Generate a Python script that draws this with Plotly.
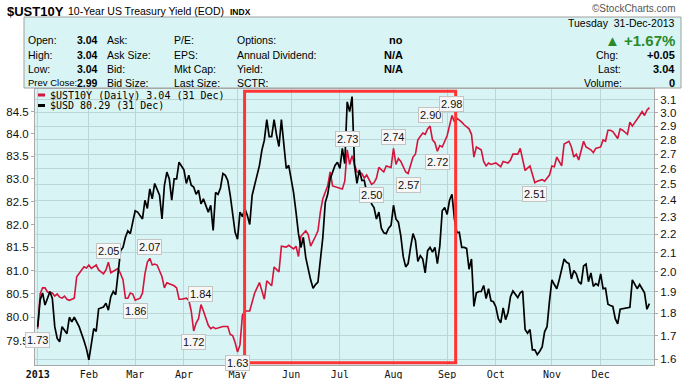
import math
import plotly.graph_objects as go

# ---------------- data ----------------
month_idx = [0, 21, 40, 60, 82, 104, 124, 146, 168, 188, 211, 231]
month_lbl = ["<b>2013</b>", "Feb", "Mar", "Apr", "May", "Jun", "Jul", "Aug", "Sep", "Oct", "Nov", "Dec"]

# 10-Year US Treasury yield ($UST10Y), trading-day index -> value
ust_idx = [0, 1, 2, 3, 4, 6, 7, 8, 9, 10, 11, 12, 13, 14, 15, 16, 17, 19, 20, 21, 22, 24, 25, 27, 28, 29, 30,
           32, 33, 34, 35, 36, 37, 38, 39, 40, 42, 43, 44, 45, 46, 47, 48, 49, 51, 52, 53, 54, 56, 57, 58, 59,
           61, 62, 63, 64, 65, 66, 67, 68, 70, 71, 72, 73, 75, 76, 78, 79, 80, 81, 82, 83, 84, 85, 87, 89, 91,
           93, 94, 96, 97, 99, 100, 102, 103, 105, 106, 107, 108, 110, 111, 112, 114, 115, 116, 117, 119, 120,
           121, 123, 125, 126, 127, 128, 129, 130, 131, 133, 134, 135, 137, 138, 139, 140, 142, 143, 145, 146,
           147, 148, 149, 151, 152, 154, 155, 156, 158, 159, 160, 161, 162, 163, 164, 165, 166, 168, 170, 171,
           172, 174, 175, 177, 178, 179, 180, 182, 183, 184, 185, 186, 188, 190, 191, 193, 194, 195, 197, 198,
           199, 200, 202, 204, 205, 207, 208, 210, 211, 212, 213, 215, 216, 218, 219, 220, 221, 222, 224, 225,
           227, 228, 229, 231, 232, 233, 234, 235, 236, 238, 239, 240, 242, 243, 244, 246, 247, 248, 249, 250, 251]
ust_val = [1.73, 1.89, 1.92, 1.92, 1.90, 1.895, 1.88, 1.89, 1.875, 1.87, 1.88, 1.865, 1.86, 1.865, 1.87, 1.975,
           1.99, 2.026, 2.02, 2.035, 2.017, 2.035, 2.01, 1.99, 2.01, 2.05, 1.995,
           2.01, 2.017, 1.99, 1.96, 1.87, 1.87, 1.895, 1.89, 1.86, 1.87, 1.895, 1.99, 2.05, 2.07, 2.035, 2.04,
           2.035, 1.975, 1.92, 1.945, 1.94, 1.93, 1.92, 1.865, 1.865,
           1.87, 1.86, 1.81, 1.72, 1.755, 1.775, 1.84, 1.81, 1.745, 1.73, 1.737, 1.73, 1.735, 1.74, 1.74, 1.705,
           1.70, 1.67, 1.63, 1.66, 1.79, 1.81, 1.81, 1.894, 1.946,
           1.865, 1.955, 1.93, 2.025, 2.0, 2.135, 2.13, 2.14, 2.12, 2.135, 2.08, 2.19, 2.22, 2.2, 2.135, 2.19,
           2.22, 2.33, 2.41, 2.49, 2.58,
           2.49, 2.48, 2.47, 2.52, 2.73, 2.63, 2.69, 2.63, 2.58, 2.57, 2.54, 2.56, 2.50, 2.51, 2.54, 2.61, 2.58,
           2.62, 2.61, 2.74,
           2.63, 2.67, 2.65, 2.58, 2.57, 2.68, 2.70, 2.80, 2.85, 2.84, 2.88, 2.90, 2.80, 2.78, 2.72, 2.76, 2.75,
           2.83, 2.98, 2.93,
           2.96, 2.93, 2.91, 2.88, 2.84, 2.68, 2.75, 2.73, 2.65, 2.62, 2.64, 2.63, 2.64, 2.615, 2.65, 2.64, 2.66,
           2.70, 2.70, 2.74,
           2.66, 2.59, 2.62, 2.51, 2.52, 2.53, 2.52, 2.56, 2.62, 2.615, 2.68, 2.62, 2.77, 2.79, 2.75, 2.68, 2.70,
           2.66, 2.79, 2.75,
           2.73, 2.71, 2.74, 2.75, 2.80, 2.79, 2.87, 2.87, 2.86, 2.81, 2.88, 2.87, 2.84, 2.93, 2.90, 2.96, 2.98,
           3.01, 2.98, 3.02, 3.04]

# US Dollar index ($USD), trading-day index -> value
usd_idx = [0, 1, 2, 3, 4, 5, 6, 7, 8, 9, 10, 11, 12, 13, 14, 15, 16, 17, 19, 20, 21, 22, 23, 24, 25, 27, 28, 29,
           30, 31, 32, 33, 34, 35, 36, 37, 38, 39, 40, 41, 43, 44, 45, 46, 47, 48, 50, 51, 52, 53, 54, 55, 56,
           57, 58, 60, 61, 62, 63, 64, 65, 66, 67, 68, 69, 70, 71, 72, 73, 74, 75, 76, 77, 78, 79, 80, 81, 82,
           83, 84, 85, 86, 87, 88, 89, 90, 91, 92, 93, 94, 95, 96, 97, 98, 99, 100, 101, 102, 103, 104, 105,
           106, 107, 108, 109, 110, 111, 112, 113, 114, 115, 116, 117, 118, 119, 120, 121, 122, 123, 124, 125,
           126, 127, 128, 129, 130, 131, 132, 133, 134, 135, 136, 137, 138, 139, 140, 141, 142, 143, 144, 145,
           146, 147, 148, 149, 150, 151, 152, 153, 154, 155, 156, 157, 158, 159, 160, 161, 162, 163, 164, 165,
           166, 167, 168, 169, 170, 171, 172, 173, 174, 175, 176, 177, 178, 179, 180, 181, 182, 183, 184, 185,
           186, 187, 188, 189, 190, 191, 192, 193, 194, 195, 196, 197, 198, 199, 200, 201, 202, 203, 204, 205,
           206, 207, 208, 209, 210, 211, 212, 213, 214, 215, 216, 217, 218, 219, 220, 221, 222, 223, 224, 225,
           226, 227, 228, 229, 230, 231, 232, 233, 234, 235, 236, 237, 238, 239, 240, 241, 242, 243, 244, 245,
           246, 247, 248, 249, 250, 251]
usd_val = [79.8, 80.37, 80.52, 80.26, 80.4, 80.55, 80.4, 79.8, 79.55, 79.48, 79.8, 79.72, 79.65, 80.0, 79.9, 80.0,
           79.9, 79.8, 79.5, 79.33, 79.1, 79.43, 79.76, 79.7, 80.18, 80.22, 80.3, 80.15,
           80.44, 80.55, 80.48, 80.95, 81.43, 81.5, 81.72, 81.86, 81.8, 82.05, 82.3, 82.27, 82.12, 82.53, 82.35,
           82.78, 82.56, 82.9, 82.64, 82.12, 82.86, 83.15, 83.0, 82.53, 83.0,
           83.0, 83.37, 83.2, 82.9, 83.08, 82.86, 82.82, 82.66, 82.75, 82.45, 82.56, 82.42, 82.27, 82.42, 81.87,
           82.7, 82.66, 82.8, 83.12, 83.08, 82.96, 82.64, 82.27, 81.83, 81.68,
           82.27, 82.17, 82.35, 82.2, 82.0, 82.64, 82.86, 83.08, 83.3, 83.64, 83.86, 84.32, 83.94, 83.94, 84.32,
           83.98, 83.72, 84.32, 83.72, 83.23, 83.3, 83.0, 82.7,
           82.27, 81.8, 81.5, 81.72, 81.28, 81.03, 80.8, 80.62, 80.7, 80.75, 81.2, 81.72, 82.48, 82.66, 83.0,
           83.15, 83.3, 83.37, 83.23, 83.68,
           83.34, 84.72, 84.5, 84.84, 83.3, 82.9, 83.2, 82.97, 82.97, 82.7, 82.78, 82.45, 82.37, 82.12, 82.27,
           81.92, 81.82, 81.8, 81.92, 81.98,
           82.42, 82.12, 82.05, 81.75, 81.3, 81.08, 81.15, 81.5, 81.8, 81.65, 81.2, 81.32, 81.25, 80.95, 81.43,
           81.5, 81.4, 81.5, 81.15, 81.53,
           82.3, 82.37, 82.22, 82.53, 82.66, 82.12, 81.82, 81.83, 81.5, 81.5, 81.48, 81.03, 81.25, 80.23, 80.52,
           80.55, 80.55, 80.68, 80.4, 80.61,
           80.35, 80.33, 80.22, 79.97, 79.88, 80.2, 79.95, 80.1, 80.44, 80.56, 80.49, 80.42, 80.52, 80.56, 79.74,
           79.66, 79.74, 79.31, 79.31, 79.21,
           79.28, 79.37, 79.69, 79.8, 80.34, 80.8, 80.7, 80.61, 80.8, 81.0, 81.25, 81.18, 81.15, 80.82, 81.0,
           80.93, 80.76, 80.71, 81.1, 81.14,
           80.76, 80.95, 80.66, 80.72, 80.68, 80.93, 80.61, 80.62, 80.28, 80.25, 80.23, 79.97, 79.86, 80.17,
           80.18, 80.19, 80.2, 80.21, 80.8, 80.7,
           80.61, 80.7, 80.61, 80.52, 80.17, 80.29]

# peak / trough labels on the yield line
lab_idx = [0, 29, 40, 46, 64, 67, 82, 127, 137, 146, 152, 161, 164, 170, 204]
lab_val = [1.73, 2.05, 1.86, 2.07, 1.72, 1.84, 1.63, 2.73, 2.50, 2.74, 2.57, 2.90, 2.72, 2.98, 2.51]
lab_dir = ["low", "high", "low", "high", "low", "high", "low", "high", "low", "high", "low", "high", "low",
           "high", "low"]

ust_ticks = [1.6, 1.7, 1.8, 1.9, 2.0, 2.1, 2.2, 2.3, 2.4, 2.5, 2.6, 2.7, 2.8, 2.9, 3.0, 3.1]
usd_ticks = [79.5, 80.0, 80.5, 81.0, 81.5, 82.0, 82.5, 83.0, 83.5, 84.0, 84.5]

highlight_start, highlight_end = 84.9, 171.5   # trading-day index of the red box

# ---------------- geometry helpers ----------------
W, H = 682, 379
L, R, T, B = 35, 28, 89, 14
PW, PH = W - L - R, H - T - B


def px(x):
    return (x - L) / PW


def py(y):
    return (H - B - y) / PH


BG = "#d8f4f4"
GRID = "#bad6d6"
RED = "#d4143c"
SANS = "Arial, Liberation Sans, sans-serif"

fig = go.Figure()
fig.add_trace(go.Scatter(x=ust_idx, y=ust_val, mode="lines", line=dict(color=RED, width=1.6),
                         yaxis="y", hoverinfo="skip", showlegend=False))
fig.add_trace(go.Scatter(x=usd_idx, y=usd_val, mode="lines", line=dict(color="#000000", width=1.7),
                         yaxis="y2", hoverinfo="skip", showlegend=False))

ann = []
# labels on peaks / troughs
for i, v, d in zip(lab_idx, lab_val, lab_dir):
    ann.append(dict(x=i, y=math.log10(v), xref="x", yref="y", text=f"{v:.2f}", showarrow=False,
                    yshift=11 if d == "high" else -11, font=dict(family=SANS, size=11, color="#111"),
                    bgcolor="#f7f7f7", bordercolor="#c4c4c4", borderwidth=1, borderpad=1))

# legend
ann.append(dict(x=px(48), y=py(95), xref="paper", yref="paper", xanchor="left", yanchor="middle",
                text=f"$UST10Y (Daily) {ust_val[-1]:.2f} (31 Dec)", showarrow=False,
                font=dict(family="DejaVu Sans Mono", size=10, color="#000")))
ann.append(dict(x=px(48), y=py(105.5), xref="paper", yref="paper", xanchor="left", yanchor="middle",
                text=f"$USD {usd_val[-1]:.2f} (31 Dec)", showarrow=False,
                font=dict(family="DejaVu Sans Mono", size=10, color="#000")))


def txt(x, y, s, anchor="left", size=10.5, bold=False, color="#000", family=SANS):
    ann.append(dict(x=px(x), y=py(y), xref="paper", yref="paper", xanchor=anchor, yanchor="middle",
                    text=f"<b>{s}</b>" if bold else s, showarrow=False,
                    font=dict(family=family, size=size, color=color)))


# header
txt(5, 11, "$UST10Y", size=13, bold=True)
txt(66, 11, "10-Year US Treasury Yield (EOD)", size=10.5)
txt(228, 12, "INDX", size=8.5, bold=True)
txt(678, 8, "©StockCharts.com", anchor="right", size=10, color="#555")

# info panel
rows = [40, 55, 69, 83]
for y, s, sz in zip(rows, ["Open:", "High:", "Low:", "Prev Close:"], [10.5, 10.5, 10.5, 9.5]):
    txt(26, y, s, size=sz)
for y, s in zip(rows, ["3.04", "3.04", "3.04", "2.99"]):
    txt(100, y, s, anchor="right", bold=True, size=10.5)
for y, s in zip(rows, ["Ask:", "Ask Size:", "Bid:", "Bid Size:"]):
    txt(105, y, s)
for y, s in zip(rows, ["P/E:", "EPS:", "Mkt Cap:", "Last Size:"]):
    txt(172, y, s)
for y, s in zip(rows, ["Options:", "Annual Dividend:", "Yield:", "SCTR:"]):
    txt(235, y, s)
for y, s in zip(rows[:3], ["no", "N/A", "N/A"]):
    txt(405, y, s, anchor="right", bold=True, size=11)
txt(677, 23, "Tuesday  31-Dec-2013", anchor="right")
txt(677, 40, "▲ +1.67%", anchor="right", size=15, bold=True, color="#2a8a2a")
txt(594, 55, "Chg:")
txt(677, 55, "+0.05", anchor="right", bold=True, size=11)
txt(596, 69, "Last:")
txt(677, 69, "3.04", anchor="right", bold=True, size=11)
txt(582, 83, "Volume:")
txt(677, 83, "0", anchor="right", bold=True, size=11)

shapes = [
    dict(type="rect", xref="paper", yref="paper", x0=px(24), x1=px(681), y0=py(88), y1=py(17),
         fillcolor=BG, line=dict(color="#a0a0a0", width=1), layer="below"),
    dict(type="line", xref="paper", yref="paper", x0=px(38), x1=px(45), y0=py(95), y1=py(95),
         line=dict(color=RED, width=3)),
    dict(type="line", xref="paper", yref="paper", x0=px(38), x1=px(45), y0=py(105.5), y1=py(105.5),
         line=dict(color="#000", width=3)),
    dict(type="rect", xref="x", yref="paper", x0=highlight_start, x1=highlight_end, y0=py(362.8),
         y1=py(91.2), line=dict(color="#ff3434", width=3), fillcolor="rgba(0,0,0,0)", layer="above"),
]

fig.update_layout(
    width=W, height=H, autosize=False,
    margin=dict(l=L, r=R, t=T, b=B, pad=0, autoexpand=False),
    paper_bgcolor="#ffffff", plot_bgcolor=BG,
    showlegend=False,
    xaxis=dict(range=[(35 - 37.7) / 2.437, (654 - 37.7) / 2.437], tickmode="array", tickvals=month_idx,
               ticktext=month_lbl, showgrid=True, gridcolor=GRID, gridwidth=1, zeroline=False,
               showline=True, linecolor="#a8a8a8", linewidth=1, mirror=True, ticks="", automargin=False,
               tickfont=dict(family="DejaVu Sans Mono", size=10, color="#111")),
    yaxis=dict(type="log", side="right", range=[math.log10(1.577), math.log10(3.188)], automargin=False,
               tickmode="array", tickvals=ust_ticks, ticktext=[f"{v:.1f}" for v in ust_ticks],
               showgrid=True, gridcolor=GRID, gridwidth=1, zeroline=False, showline=True,
               linecolor="#a8a8a8", ticks="outside", ticklen=3, tickcolor="#a8a8a8",
               tickfont=dict(family=SANS, size=11.5, color="#111")),
    yaxis2=dict(type="log", side="left", overlaying="y", range=[math.log10(78.99), math.log10(85.01)],
                tickmode="array", tickvals=usd_ticks, ticktext=[f"{v:.1f}" for v in usd_ticks],
                automargin=False,
                showgrid=False, zeroline=False, showline=True, linecolor="#a8a8a8", ticks="outside",
                ticklen=3, tickcolor="#a8a8a8", tickfont=dict(family=SANS, size=11.5, color="#111")),
    annotations=ann,
    shapes=shapes,
)

fig.write_html("out.html", config={"displayModeBar": False, "staticPlot": True},
               post_script="document.body.style.margin='0';document.body.style.padding='0';"
                           "document.body.style.overflow='hidden';")
